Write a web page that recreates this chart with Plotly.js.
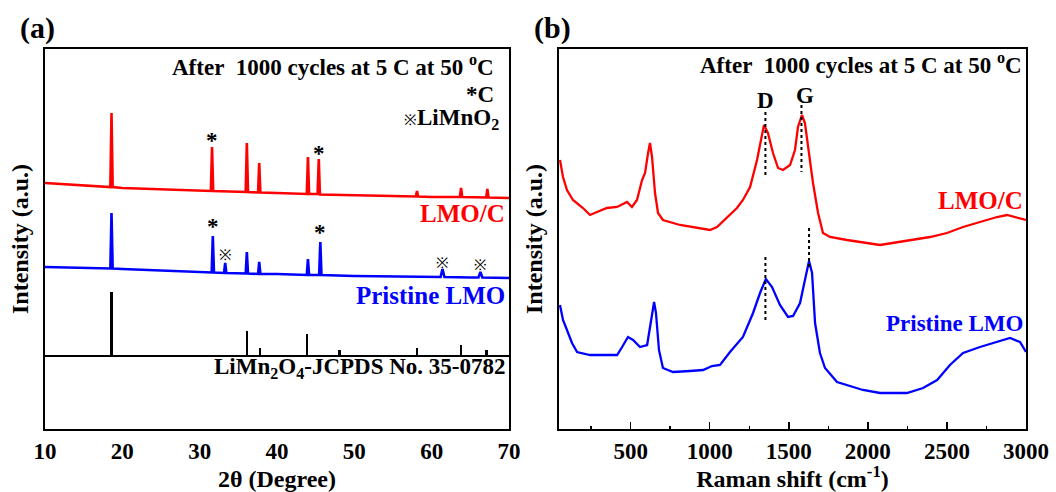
<!DOCTYPE html>
<html>
<head>
<meta charset="utf-8">
<script src="https://cdn.plot.ly/plotly-3.0.1.min.js"></script>
<style>html,body{margin:0;padding:0;background:#fff;}#chart{width:1056px;height:492px;}</style>
</head>
<body>
<div id="chart"></div>
<script>
// ---------- (a) XRD data ----------
const xrdRedX = [10, 12, 15, 18.45, 18.6, 18.75, 20, 25, 30, 31.45, 31.6, 31.75, 35.95, 36.1, 36.25, 37.55, 37.7, 37.85, 40, 43.85, 44.0, 44.15, 45.25, 45.4, 45.55, 50, 55, 57.95, 58.1, 58.25, 60, 63.65, 63.8, 63.95, 67.05, 67.2, 67.35, 70];
const xrdRedY = [246, 245, 243, 242, 316, 242, 241, 240, 238.5, 238, 282, 238, 237, 286, 237, 236.5, 266, 236.5, 236, 235, 272, 235, 235, 270, 234.5, 234, 233, 232.5, 238, 232.5, 232, 232, 241, 232, 231.5, 240, 231.5, 231];

const xrdBlueX = [10, 12, 15, 18.45, 18.6, 18.75, 20, 25, 30, 31.55, 31.7, 31.85, 33.15, 33.3, 33.45, 35.95, 36.1, 36.25, 37.55, 37.7, 37.85, 40, 43.85, 44.0, 44.15, 45.45, 45.6, 45.75, 50, 55, 60, 61.15, 61.4, 61.65, 65, 66.05, 66.3, 66.55, 70];
const xrdBlueY = [162, 161.5, 161, 160.5, 216, 160.5, 160, 158.5, 157, 156.5, 193, 156.5, 156, 166, 156, 155.5, 177, 155.5, 155, 167, 155, 155, 154, 170, 154, 154, 187, 154, 153, 152.5, 152, 152, 160, 152, 151.5, 151.5, 157, 151.5, 151];

const jcpdsX = [18.6, 36.1, 37.8, 43.9, 48.1, 58.1, 63.8, 67.1];
const jcpdsH = [64, 25, 8, 22, 6, 8, 11, 6];
const jcpdsBase = 73;

const xrdStarRed = {x: [31.6, 45.4], y: [289, 276]};
const xrdStarBlue = {x: [31.7, 45.6], y: [203, 197]};
const xrdRefMark = {x: [33.3, 61.4, 66.3], y: [174, 166, 164]};

// ---------- (b) Raman data ----------
const ramRedX = [53, 72, 97, 135, 198, 243, 287, 350, 414, 477, 508, 540, 572, 591, 610, 622, 635, 654, 673, 704, 812, 919, 1002, 1046, 1109, 1172, 1210, 1255, 1299, 1330, 1343, 1368, 1400, 1432, 1463, 1508, 1539, 1558, 1583, 1602, 1621, 1653, 1685, 1716, 1761, 1868, 2077, 2285, 2393, 2500, 2602, 2709, 2817, 2880, 2943, 3000];
const ramRedY = [269, 252, 239, 229, 221, 214, 217, 221, 222, 227, 222, 229, 249, 256, 276, 286, 272, 236, 216, 209, 204, 201, 199, 202, 211, 221, 229, 242, 269, 296, 304, 296, 276, 261, 259, 264, 279, 302, 314, 306, 282, 246, 216, 196, 192, 189, 184, 189, 192, 196, 202, 207, 212, 214, 211, 209];

const ramBlueX = [53, 72, 97, 129, 161, 243, 325, 414, 446, 483, 515, 559, 604, 629, 648, 660, 679, 704, 768, 875, 958, 1014, 1065, 1128, 1210, 1274, 1318, 1355, 1394, 1444, 1495, 1527, 1571, 1602, 1628, 1647, 1666, 1697, 1729, 1805, 1969, 2077, 2247, 2349, 2438, 2519, 2602, 2709, 2817, 2899, 2962, 3000];
const ramBlueY = [124, 109, 99, 86, 77, 74, 74, 74, 82, 92, 89, 82, 84, 106, 127, 116, 79, 61, 57, 58, 59, 63, 64, 77, 92, 116, 136, 150, 142, 124, 112, 113, 126, 149, 168, 156, 106, 76, 61, 47, 39, 36, 36, 41, 49, 64, 76, 82, 87, 91, 87, 77];

// dotted guide lines at D and G bands: [x, yFrom, yTo]
const ramGuides = [[1352, 317, 251], [1580, 324, 257], [1352, 172, 106], [1628, 201, 159]];

const serif = '"Liberation Serif", "Times New Roman", serif';
const red = '#ff0000', blue = '#0000ff';

const traces = [
  {x: xrdRedX, y: xrdRedY, xaxis: 'x', yaxis: 'y', type: 'scatter', mode: 'lines', line: {color: red, width: 2.6}, hoverinfo: 'skip'},
  {x: xrdBlueX, y: xrdBlueY, xaxis: 'x', yaxis: 'y', type: 'scatter', mode: 'lines', line: {color: blue, width: 2.6}, hoverinfo: 'skip'},
  {x: jcpdsX, y: jcpdsH, base: jcpdsBase, xaxis: 'x', yaxis: 'y', type: 'bar', width: 0.3, marker: {color: '#000', line: {width: 0}}, hoverinfo: 'skip'},
  {x: ramRedX, y: ramRedY, xaxis: 'x2', yaxis: 'y2', type: 'scatter', mode: 'lines', line: {color: red, width: 2.3}, hoverinfo: 'skip'},
  {x: ramBlueX, y: ramBlueY, xaxis: 'x2', yaxis: 'y2', type: 'scatter', mode: 'lines', line: {color: blue, width: 2.3}, hoverinfo: 'skip'}
];

const shapes = [
  {type: 'line', xref: 'x', yref: 'y', x0: 10, x1: 70, y0: jcpdsBase, y1: jcpdsBase, line: {color: '#000', width: 2}}
];
ramGuides.forEach(g => shapes.push({type: 'line', xref: 'x2', yref: 'y2', x0: g[0], x1: g[0], y0: g[1], y1: g[2], line: {color: '#000', width: 2, dash: 'dot'}}));

const bfont = (size, color) => ({family: serif, size: size, color: color || '#000', weight: 'bold'});
const ann = [];
function t(text, x, y, xr, yr, size, color, xanchor) {
  ann.push({text: text, x: x, y: y, xref: xr, yref: yr, showarrow: false, font: bfont(size, color), xanchor: xanchor || 'center', yanchor: 'middle'});
}
const nb = '\u00A0';
const refMark = '<span style="font-weight:normal;font-size:15px">※</span>';
// panel (a)
t('<b>(a)</b>', -0.017, 1.055, 'x domain', 'y domain', 30);
t('<b>After' + nb + ' 1000 cycles at 5 C at 50 <sup>o</sup>C</b>', 68.3, 364, 'x', 'y', 23, null, 'right');
t('<b>*C</b>', 68.3, 335, 'x', 'y', 23, null, 'right');
t(refMark + '<b>LiMnO<sub>2</sub></b>', 68.9, 310, 'x', 'y', 23, null, 'right');
xrdStarRed.x.forEach((x, i) => t('<b>*</b>', x, xrdStarRed.y[i], 'x', 'y', 23));
xrdStarBlue.x.forEach((x, i) => t('<b>*</b>', x, xrdStarBlue.y[i], 'x', 'y', 23));
xrdRefMark.x.forEach((x, i) => t('<span style="font-weight:normal">※</span>', x, xrdRefMark.y[i], 'x', 'y', 15));
t('<b>LMO/C</b>', 69.8, 216, 'x', 'y', 25, red, 'right');
t('<b>Pristine LMO</b>', 69.8, 134, 'x', 'y', 25, blue, 'right');
t('<b>LiMn<sub>2</sub>O<sub>4</sub>-JCPDS No. 35-0782</b>', 69.8, 61, 'x', 'y', 23, null, 'right');
// panel (b)
t('<b>(b)</b>', -0.015, 1.055, 'x2 domain', 'y2 domain', 30);
t('<b>After' + nb + ' 1000 cycles at 5 C at 50 <sup>o</sup>C</b>', 2985, 366, 'x2', 'y2', 23, null, 'right');
t('<b>D</b>', 1352, 329, 'x2', 'y2', 23);
t('<b>G</b>', 1600, 334, 'x2', 'y2', 23);
t('<b>LMO/C</b>', 2995, 229, 'x2', 'y2', 25, red, 'right');
t('<b>Pristine LMO</b>', 2995, 106, 'x2', 'y2', 23, blue, 'right');

const axLine = {showline: true, linecolor: '#000', linewidth: 2, mirror: true, showgrid: false, zeroline: false};
const tfont = bfont(23);
const layout = {
  width: 1056, height: 492,
  margin: {l: 45, r: 30, t: 49, b: 63},
  paper_bgcolor: '#fff', plot_bgcolor: '#fff',
  font: {family: serif, size: 23, color: '#000', weight: 'bold'},
  showlegend: false,
  bargap: 0,
  xaxis: Object.assign({}, axLine, {domain: [0, 0.473], range: [10, 70], tickvals: [10, 20, 30, 40, 50, 60, 70], ticktext: ['<b>10</b>', '<b>20</b>', '<b>30</b>', '<b>40</b>', '<b>50</b>', '<b>60</b>', '<b>70</b>'], ticks: '', tickfont: tfont, title: {text: '<b>2θ (Degree)</b>', font: bfont(24), standoff: 8}, anchor: 'y'}),
  yaxis: Object.assign({}, axLine, {domain: [0, 1], range: [0, 380], showticklabels: false, ticks: '', title: {text: '<b>Intensity (a.u.)</b>', font: bfont(24), standoff: 8}, anchor: 'x'}),
  xaxis2: Object.assign({}, axLine, {domain: [0.524, 1], range: [47, 3000], tickvals: [500, 1000, 1500, 2000, 2500, 3000], ticktext: ['<b>500</b>', '<b>1000</b>', '<b>1500</b>', '<b>2000</b>', '<b>2500</b>', '<b>3000</b>'], ticks: 'inside', ticklen: 7, tickwidth: 1.5, tickcolor: '#000', minor: {tickvals: [250, 750, 1250, 1750, 2250, 2750], ticks: 'inside', ticklen: 3, tickwidth: 1.5, tickcolor: '#000', showgrid: false}, tickfont: tfont, title: {text: '<b>Raman shift (cm<sup>-1</sup>)</b>', font: bfont(24), standoff: 8}, anchor: 'y2'}),
  yaxis2: Object.assign({}, axLine, {domain: [0, 1], range: [0, 380], showticklabels: false, ticks: '', title: {text: '<b>Intensity (a.u.)</b>', font: bfont(24), standoff: 8}, anchor: 'x2'}),
  shapes: shapes,
  annotations: ann
};

Plotly.newPlot('chart', traces, layout, {displayModeBar: false, staticPlot: true});
</script>
</body>
</html>
